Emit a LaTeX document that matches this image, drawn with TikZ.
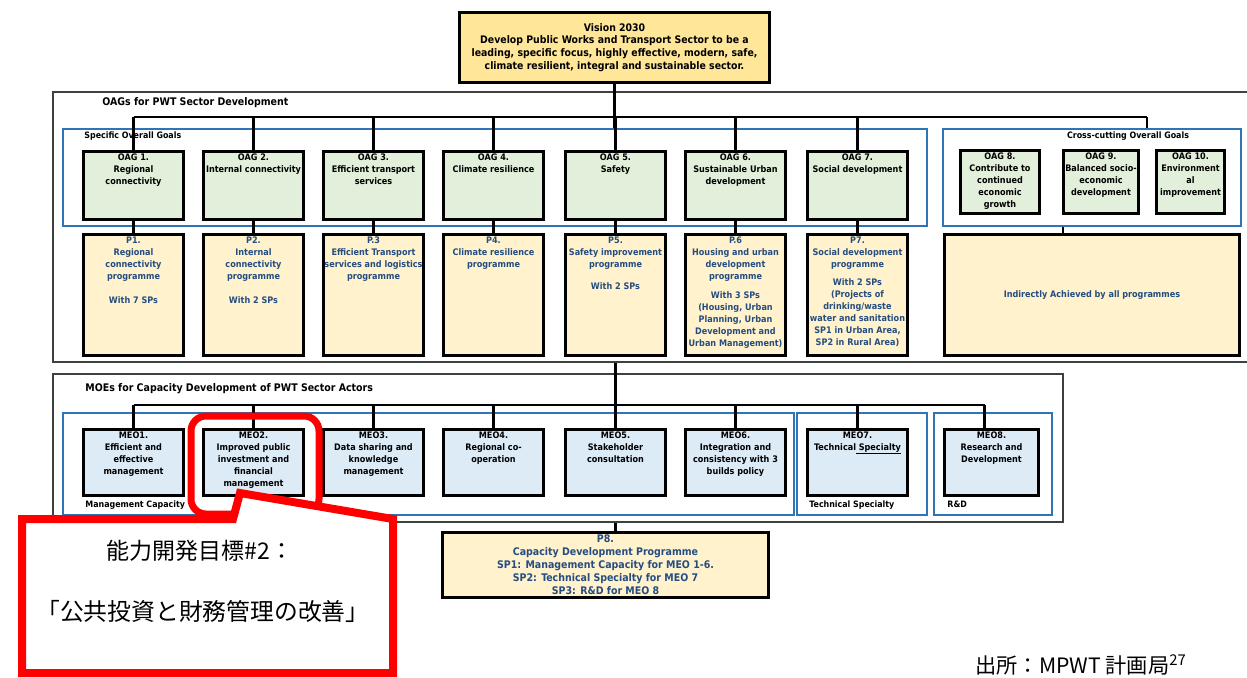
\documentclass[tikz,border=0pt]{standalone}
\usepackage{fontspec}
\setmainfont{DejaVu Sans Condensed}
\newfontfamily\cjk{Noto Sans CJK JP}

\definecolor{visfill}{HTML}{FFE699}
\definecolor{oagfill}{HTML}{E2EFDA}
\definecolor{progfill}{HTML}{FFF2CC}
\definecolor{meofill}{HTML}{DDEBF7}
\definecolor{frameblue}{HTML}{2E75B6}
\definecolor{framegray}{HTML}{404040}
\definecolor{progtext}{HTML}{254D80}
\definecolor{callred}{HTML}{FF0000}

\newcommand\boxfont{\fontsize{4.5pt}{6pt}\selectfont\bfseries}
\newcommand\visfont{\fontsize{5.2pt}{6.4pt}\selectfont\bfseries}
\newcommand\headfont{\fontsize{5.25pt}{6pt}\selectfont\bfseries}
\newcommand\subfont{\fontsize{4.4pt}{6pt}\selectfont\bfseries}
\newcommand\pfont{\fontsize{5.25pt}{6.5pt}\selectfont\bfseries}

\tikzset{
  conn/.style={draw=black, line width=1.2pt},
  grayframe/.style={draw=framegray, line width=0.7pt, inner sep=0pt},
  blueframe/.style={draw=frameblue, line width=1pt, inner sep=0pt},
  goalbox/.style={draw=black, line width=1.4pt, fill=oagfill, inner sep=0pt},
  progbox/.style={draw=black, line width=1.4pt, fill=progfill, inner sep=0pt},
  meobox/.style={draw=black, line width=1.4pt, fill=meofill, inner sep=0pt},
  boxtxt/.style={font=\boxfont, align=center, inner sep=0pt, anchor=north},
  progtxt/.style={boxtxt, text=progtext},
  headtxt/.style={font=\headfont, inner sep=0pt, anchor=base west},
  subtxt/.style={font=\subfont, inner sep=0pt, anchor=base west},
  cjktxt/.style={font=\cjk, inner sep=0pt},
}

\begin{document}
\begin{tikzpicture}[x=0.5pt, y=-0.5pt]
\useasboundingbox (0,0) rectangle (1247,677);

% ---------- frames ----------
\node[grayframe, minimum width=599.5pt, minimum height=135pt] (oagf) at (652.5,227) {};
\node[grayframe, minimum width=505pt, minimum height=74pt] (moef) at (558,448) {};
\node[blueframe, minimum width=432pt, minimum height=48.5pt] (sogf) at (495,177.5) {};
\node[blueframe, minimum width=149pt, minimum height=48.5pt] (ccf) at (1092,177.5) {};
\node[blueframe, minimum width=365.5pt, minimum height=51pt] (mcf) at (428.5,464) {};
\node[blueframe, minimum width=65pt, minimum height=51pt] (tsf) at (862,464) {};
\node[blueframe, minimum width=59pt, minimum height=51pt] (rdf) at (993,464) {};

\node[headtxt] (oagf-lbl) at (102,105.5) {OAGs for PWT Sector Development};
\node[subtxt] (sogf-lbl) at (84,138.5) {Specific Overall Goals};
\node[subtxt, anchor=base] (ccf-lbl) at (1128,138.5) {Cross-cutting Overall Goals};
\node[headtxt] (moef-lbl) at (85,391.5) {MOEs for Capacity Development of PWT Sector Actors};
\node[subtxt] (mcf-lbl) at (85,507) {Management Capacity};
\node[subtxt] (tsf-lbl) at (809,507) {Technical Specialty};
\node[subtxt] (rdf-lbl) at (947,507) {R\&D};

% ---------- boxes ----------
\node[draw=black, line width=1.3pt, fill=visfill, minimum width=155pt, minimum height=35pt, inner sep=0pt] (vis) at (614.5,47.5) {};

\foreach \n/\x in {1/133.5,2/253.5,3/373.5,4/493.5,5/615.5,6/735.5,7/857.5}{
  \node[goalbox, minimum width=50pt, minimum height=34pt] (o\n) at (\x,185.5) {};
  \node[progbox, minimum width=50pt, minimum height=60.5pt] (p\n) at (\x,295) {};
}
\node[goalbox, minimum width=39.5pt, minimum height=31.5pt] (o8) at (1000,182) {};
\node[goalbox, minimum width=37.5pt, minimum height=31.5pt] (o9) at (1101,182) {};
\node[goalbox, minimum width=34pt, minimum height=31.5pt] (o10) at (1190.5,182) {};
\node[progbox, minimum width=147.5pt, minimum height=60.5pt] (pind) at (1092,295) {};

\foreach \n/\x in {1/133.5,2/253.5,3/373.5,4/493.5,5/615.5,6/735.5,7/857.5}{
  \node[meobox, minimum width=50pt, minimum height=33pt] (m\n) at (\x,462.5) {};
}
\node[meobox, minimum width=47pt, minimum height=33pt] (m8) at (991.5,462.5) {};
\node[progbox, line width=1.3pt, minimum width=163pt, minimum height=32.5pt] (p8) at (605.5,565) {};

\coordinate (obus) at (0,117);
\coordinate (ccjoin) at (1147,117);
\coordinate (ccdrop) at (1063,0);
\coordinate (mbus) at (0,405);
\coordinate (m8top) at ([xshift=-3.5pt]m8.north);

% ---------- texts ----------
\node[font=\visfont, align=center, inner sep=0pt] (vis-t) at (vis.center)
  {Vision 2030\\Develop Public Works and Transport Sector to be a\\leading, specific focus, highly effective, modern, safe,\\climate resilient, integral and sustainable sector.};

\node[boxtxt] (o1-t) at ([yshift=-1.5pt]o1.north) {OAG 1.\\Regional\\connectivity};
\node[boxtxt] (o2-t) at ([yshift=-1.5pt]o2.north) {OAG 2.\\Internal connectivity};
\node[boxtxt] (o3-t) at ([yshift=-1.5pt]o3.north) {OAG 3.\\Efficient transport\\services};
\node[boxtxt] (o4-t) at ([yshift=-1.5pt]o4.north) {OAG 4.\\Climate resilience};
\node[boxtxt] (o5-t) at ([yshift=-1.5pt]o5.north) {OAG 5.\\Safety};
\node[boxtxt] (o6-t) at ([yshift=-1.5pt]o6.north) {OAG 6.\\Sustainable Urban\\development};
\node[boxtxt] (o7-t) at ([yshift=-1.5pt]o7.north) {OAG 7.\\Social development};
\node[boxtxt] (o8-t) at ([yshift=-1.5pt]o8.north) {OAG 8.\\Contribute to\\continued\\economic\\growth};
\node[boxtxt] (o9-t) at ([yshift=-1.5pt]o9.north) {OAG 9.\\Balanced socio-\\economic\\development};
\node[boxtxt] (o10-t) at ([yshift=-1.5pt]o10.north) {OAG 10.\\Environment\\al\\improvement};

\node[progtxt] (p1-t) at ([yshift=-1.5pt]p1.north) {P1.\\Regional\\connectivity\\programme\\[6pt]With 7 SPs};
\node[progtxt] (p2-t) at ([yshift=-1.5pt]p2.north) {P2.\\Internal\\connectivity\\programme\\[6pt]With 2 SPs};
\node[progtxt] (p3-t) at ([yshift=-1.5pt]p3.north) {P.3\\Efficient Transport\\services and logistics\\programme};
\node[progtxt] (p4-t) at ([yshift=-1.5pt]p4.north) {P4.\\Climate resilience\\programme};
\node[progtxt] (p5-t) at ([yshift=-1.5pt]p5.north) {P5.\\Safety improvement\\programme\\[5pt]With 2 SPs};
\node[progtxt] (p6-t) at ([yshift=-1.5pt]p6.north) {P.6\\Housing and urban\\development\\programme\\[3.5pt]With 3 SPs\\(Housing, Urban\\Planning, Urban\\Development and\\Urban Management)};
\node[progtxt] (p7-t) at ([yshift=-1.5pt]p7.north) {P7.\\Social development\\programme\\[3pt]With 2 SPs\\(Projects of\\drinking/waste\\water and sanitation\\SP1 in Urban Area,\\SP2 in Rural Area)};
\node[progtxt, anchor=center] (pind-t) at (pind.center) {Indirectly Achieved by all programmes};

\node[boxtxt] (m1-t) at ([yshift=-1.5pt]m1.north) {MEO1.\\Efficient and\\effective\\management};
\node[boxtxt] (m2-t) at ([yshift=-1.5pt]m2.north) {MEO2.\\Improved public\\investment and\\financial\\management};
\node[boxtxt] (m3-t) at ([yshift=-1.5pt]m3.north) {MEO3.\\Data sharing and\\knowledge\\management};
\node[boxtxt] (m4-t) at ([yshift=-1.5pt]m4.north) {MEO4.\\Regional co-\\operation};
\node[boxtxt] (m5-t) at ([yshift=-1.5pt]m5.north) {MEO5.\\Stakeholder\\consultation};
\node[boxtxt] (m6-t) at ([yshift=-1.5pt]m6.north) {MEO6.\\Integration and\\consistency with 3\\builds policy};
\node[boxtxt] (m7-t) at ([yshift=-1.5pt]m7.north) {MEO7.\\Technical\underline{\smash{ Specialty}}};
\node[boxtxt] (m8-t) at ([yshift=-1.5pt]m8.north) {MEO8.\\Research and\\Development};

\node[font=\pfont, text=progtext, align=center, inner sep=0pt] (p8-t) at (p8.center)
  {P8.\\Capacity Development Programme\\SP1: Management Capacity for MEO 1-6.\\SP2: Technical Specialty for MEO 7\\SP3: R\&D for MEO 8};

% ---------- connectors ----------
\begin{scope}[conn]
  \draw (vis.south) -- (vis.south |- sogf.north);
  \draw (o1.north |- obus) -- (ccjoin);
  \draw (ccjoin) -- (ccf.north -| ccjoin);
  \draw (oagf.south -| m5.north) -- (mbus -| m5.north);
  \draw (m1.north |- mbus) -- (m8top |- mbus);
  \draw (moef.south -| m5.north) -- (p8.north -| m5.north);
  \draw (ccf.south -| ccdrop) -- (pind.north -| ccdrop);
  \foreach \n in {1,...,7}{
    \draw (o\n.north |- obus) -- (o\n.north);
    \draw (o\n.south) -- (p\n.north);
    \draw (m\n.north |- mbus) -- (m\n.north);
  }
  \draw (m8top |- mbus) -- (m8top);
\end{scope}

% ---------- red callout ----------
\draw[callred, line width=3.5pt, rounded corners=7.5pt] (191,416) rectangle (319,514);
\draw[callred, line width=4pt, fill=white, line join=miter]
  (22,519) -- (233,519) -- (240,493) -- (393,519) -- (393,673) -- (22,673) -- cycle;
\node[cjktxt, font=\cjk\fontsize{11.5pt}{13pt}\selectfont] (call-1) at (200,551) {能力開発目標\#2：};
\node[cjktxt, font=\cjk\fontsize{11.9pt}{13pt}\selectfont] (call-2) at (203,611) {「公共投資と財務管理の改善」};

% ---------- source note ----------
\node[cjktxt, font=\cjk\fontsize{10.6pt}{12pt}\selectfont, anchor=west] (src) at (975,665) {出所：MPWT 計画局\textsuperscript{27}};
\end{tikzpicture}
\end{document}
